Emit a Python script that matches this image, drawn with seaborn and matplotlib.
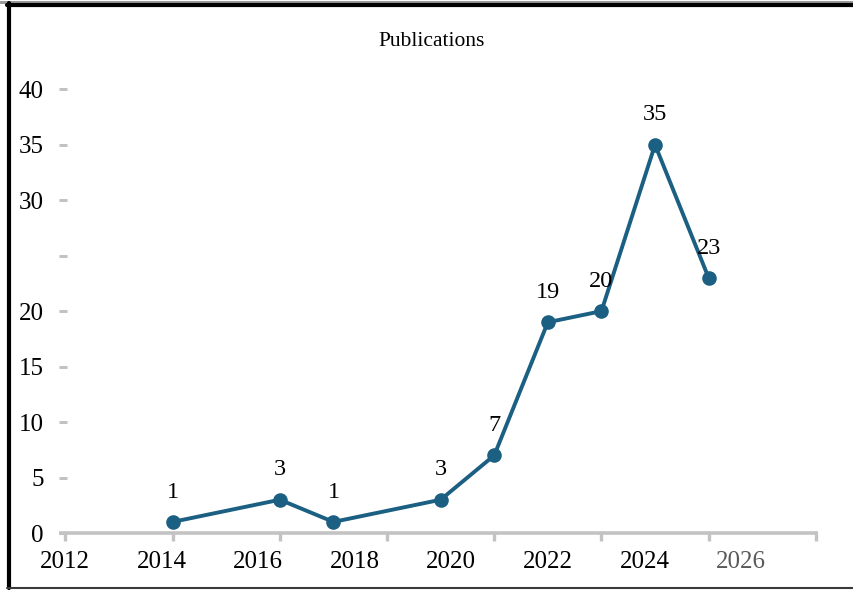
import matplotlib

matplotlib.use("Agg")
import matplotlib.pyplot as plt
import numpy as np
import pandas as pd
import seaborn as sns
from matplotlib.lines import Line2D

# values (x in the axis' own year units)
years = [2014, 2016, 2017, 2019, 2020, 2021, 2022, 2023, 2024]
publications = [1, 3, 1, 3, 7, 19, 20, 35, 23]
x_tick_labels = ["2012", "2014", "2016", "2018", "2020", "2022", "2024", "2026"]
y_ticks = [0, 5, 10, 15, 20, 25, 30, 35, 40]
y_tick_labels = ["0", "5", "10", "15", "20", "", "30", "35", "40"]

LINE_COLOR = "#1b5f82"
AXIS_GRAY = "#c3c3c3"

sns.set_theme(style="white")
plt.rcParams["font.family"] = ["Liberation Serif", "DejaVu Serif"]
plt.rcParams["text.color"] = "black"
plt.rcParams["ytick.labelcolor"] = "black"

df = pd.DataFrame({"year": years, "publications": publications})

fig = plt.figure(figsize=(8.54, 5.90), dpi=100)
ax = fig.add_axes([59 / 854, 1 - 533 / 590, (818 - 59) / 854, (533 - 89.3) / 590])

sns.lineplot(
    data=df,
    x="year",
    y="publications",
    ax=ax,
    color=LINE_COLOR,
    linewidth=2.8,
    marker="o",
    markersize=10.5,
    markeredgewidth=0,
    clip_on=False,
)

for x, v in zip(df["year"], df["publications"]):
    ax.annotate(
        str(v), (x, v), xytext=(0, 21.5), textcoords="offset points",
        ha="center", va="center", fontsize=17.5, color="black",
    )

ax.set_xlim(2011.88, 2026.04)
ax.set_ylim(0, 40)
ax.set_xlabel("")
ax.set_ylabel("")

# x axis: gray baseline with downward ticks, labels drawn on their own spacing
ax.set_xticks(np.arange(2012, 2027, 2))
ax.set_xticklabels([""] * len(x_tick_labels))
ax.tick_params(axis="x", direction="out", length=6, width=2.4, color=AXIS_GRAY, bottom=True)
label_step = 1.802
for i, lab in enumerate(x_tick_labels):
    ax.text(
        2011.99 + i * label_step, -0.066, lab, transform=ax.get_xaxis_transform(),
        ha="center", va="center", fontsize=18,
        color="#5a5a5a" if lab == "2026" else "black",
    )

ax.set_yticks(y_ticks)
ax.set_yticklabels(y_tick_labels, fontsize=18, color="black")
ax.tick_params(axis="y", direction="in", length=5.5, width=2.2, color=AXIS_GRAY, pad=11, left=True)

for side in ["top", "right", "left"]:
    ax.spines[side].set_visible(False)
ax.spines["bottom"].set_color(AXIS_GRAY)
ax.spines["bottom"].set_linewidth(2.6)
ax.spines["bottom"].set_capstyle("butt")

fig.text(432 / 854, 1 - 42 / 590, "Publications", ha="center", va="center", fontsize=15.5, color="black")

# frame around the figure (pixel coords converted to figure fraction)
W, H = 854, 590
fig.add_artist(Line2D([0, 1], [1 - 1.5 / H, 1 - 1.5 / H], color="#9a9a9a", linewidth=2.2, transform=fig.transFigure))
fig.add_artist(Line2D([7 / W, 1], [1 - 5 / H, 1 - 5 / H], color="black", linewidth=3.0, transform=fig.transFigure))
fig.add_artist(Line2D([9 / W, 9 / W], [1 - 3 / H, 1 - 588 / H], color="black", linewidth=3.0, transform=fig.transFigure))
fig.add_artist(Line2D([7 / W, 1], [1 - 588 / H, 1 - 588 / H], color="#3a3a3a", linewidth=1.5, transform=fig.transFigure))

fig.savefig("out.png", dpi=100)
plt.close(fig)
